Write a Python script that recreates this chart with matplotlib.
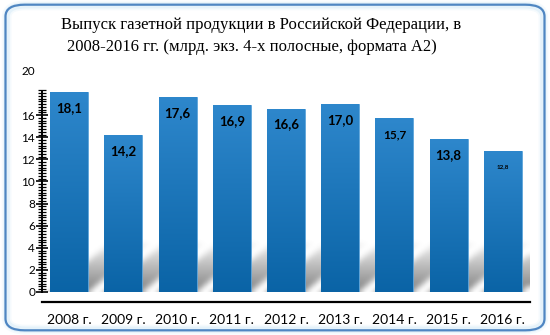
import numpy as np
import matplotlib.pyplot as plt
from matplotlib.patches import FancyBboxPatch
from matplotlib.ticker import MultipleLocator

# newspaper output, bln copies (4-page, A2 format)
years = ['2008 г.', '2009 г.', '2010 г.', '2011 г.', '2012 г.',
         '2013 г.', '2014 г.', '2015 г.', '2016 г.']
values = [18.1, 14.2, 17.6, 16.9, 16.6, 17.0, 15.7, 13.8, 12.8]
value_labels = ['18,1', '14,2', '17,6', '16,9', '16,6', '17,0', '15,7', '13,8', '12,8']
label_sizes = [9.5, 9.5, 9.5, 9.5, 9.5, 9.5, 8.5, 9.5, 4.5]
ytick_values = [0, 2, 4, 6, 8, 10, 12, 14, 16, 20]

title_lines = ['Выпуск газетной продукции в Российской Федерации, в',
               '2008-2016 гг. (млрд. экз. 4-х полосные, формата А2)']

plt.rcParams['font.family'] = ['Lato', 'DejaVu Sans']

fig = plt.figure(figsize=(5.5, 3.35), dpi=100)
fig.patch.set_facecolor('white')

# rounded frame with a faint blue halo
for lw, a in [(7, 0.10), (4.5, 0.18)]:
    fig.patches.append(FancyBboxPatch((0.012, 0.016), 0.976, 0.968,
                                      boxstyle='round,pad=0,rounding_size=0.035',
                                      transform=fig.transFigure, fill=False,
                                      edgecolor='#9fd0ee', linewidth=lw, alpha=a))
fig.patches.append(FancyBboxPatch((0.010, 0.014), 0.980, 0.972,
                                  boxstyle='round,pad=0,rounding_size=0.035',
                                  transform=fig.transFigure, fill=False,
                                  edgecolor='#4f86c2', linewidth=1.6))

fig.text(61 / 550, 1 - 25 / 335, title_lines[0], ha='left', va='center',
         fontsize=12, family='Liberation Serif')
fig.text(67 / 550, 1 - 47 / 335, title_lines[1], ha='left', va='center',
         fontsize=12, family='Liberation Serif')

ax = fig.add_axes([42 / 550, 43 / 335, 488 / 550, 226 / 335])
ax.set_facecolor('none')

x = np.arange(len(values))
width = 0.70
ylim = (0, 20.45)

# soft grey shadows cast up and to the right of each bar
nx, ny = 600, 90
sh_top = 6.0
gx = np.linspace(-0.5, len(values) - 0.5, nx)
gy = np.linspace(0, sh_top, ny)
GX, GY = np.meshgrid(gx, gy)
shade = np.zeros_like(GX)
k = 1.0 / 4.0
for xi in x:
    left, right = xi - width / 2, xi + width / 2
    m = (GY <= 4.4) & (GX >= left + GY * k) & (GX <= right + GY * k)
    shade = np.maximum(shade, m * (1 - GY / 5.0))


def box_blur(a, r, axis):
    pad = [(0, 0), (0, 0)]
    pad[axis] = (r, r)
    p = np.pad(a, pad, mode='edge')
    c = np.cumsum(p, axis=axis)
    c = np.insert(c, 0, 0, axis=axis)
    n = a.shape[axis]
    hi = np.take(c, np.arange(2 * r + 1, 2 * r + 1 + n), axis=axis)
    lo = np.take(c, np.arange(0, n), axis=axis)
    return (hi - lo) / (2 * r + 1)


for _ in range(2):
    shade = box_blur(shade, 5, 1)
    shade = box_blur(shade, 3, 0)

rgba = np.zeros((ny, nx, 4))
rgba[..., :3] = 0.42
rgba[..., 3] = np.clip(shade * 0.85, 0, 1)
ax.imshow(rgba, extent=(-0.5, len(values) - 0.5, 0, sh_top), origin='lower',
          aspect='auto', zorder=1, interpolation='bilinear')

# bars with a vertical blue gradient
grad = np.linspace(0, 1, 256).reshape(-1, 1)
top_c = np.array([0.18, 0.53, 0.80])
bot_c = np.array([0.04, 0.39, 0.65])
bars = ax.bar(x, values, width=width, color='#1a74b8', edgecolor='#5fa6dc',
              linewidth=0.6, zorder=2)
for b in bars:
    img = bot_c + (top_c - bot_c) * grad[..., None]
    im = ax.imshow(img, extent=(b.get_x(), b.get_x() + b.get_width(), 0, b.get_height()),
                   origin='lower', aspect='auto', zorder=2.5)
    im.set_clip_path(b)

for xi, v, lab, fs in zip(x, values, value_labels, label_sizes):
    ax.text(xi, v - 1.45, lab, ha='center', va='center', fontsize=fs,
            fontweight='bold', color='black', zorder=4)

ax.set_xlim(-0.5, len(values) - 0.5)
ax.set_ylim(*ylim)

ax.set_xticks(x)
ax.set_xticklabels(years, fontsize=8)
ax.tick_params(axis='x', length=0, pad=9)

ax.set_yticks(ytick_values)
ax.set_yticklabels([str(t) for t in ytick_values], fontsize=8.5)
ax.yaxis.get_major_ticks()[-1].tick1line.set_visible(False)
ax.tick_params(axis='y', which='major', direction='inout', length=8, width=1.2, pad=1)
ax.tick_params(axis='y', which='minor', direction='inout', length=6, width=0.9)
ax.set_yticks([t for t in np.arange(0, 18.3, 0.25)], minor=True)

ax.spines['top'].set_visible(False)
ax.spines['right'].set_visible(False)
ax.spines['left'].set_bounds(0, 18.2)
ax.spines['left'].set_linewidth(1.4)
ax.spines['bottom'].set_position(('outward', 7))
ax.spines['bottom'].set_linewidth(1.6)

fig.savefig('out.png', dpi=100, facecolor='white')
